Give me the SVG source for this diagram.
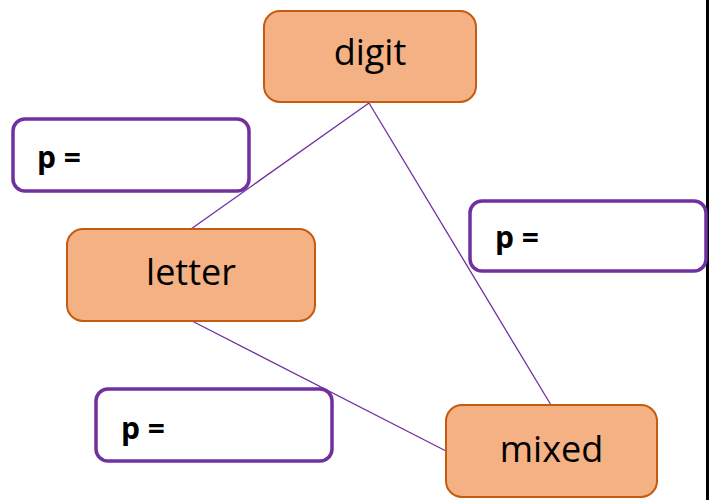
<svg xmlns="http://www.w3.org/2000/svg" width="712" height="500" viewBox="0 0 712 500">
  <style>
    .state rect { fill: #F4B183; stroke: #C55A11; stroke-width: 2; }
    .state text { font-family: "Open Sans", "Noto Sans", "Liberation Sans", sans-serif; font-size: 36px; fill: #000; text-anchor: middle; }
    .prob rect { fill: #FFFFFF; stroke: #7030A0; stroke-width: 3.5; }
    .prob text { font-family: "Open Sans", "Noto Sans", "Liberation Sans", sans-serif; font-size: 30px; font-weight: bold; fill: #000; }
    .edges line { stroke: #7030A0; stroke-width: 1.3; }
  </style>
  <rect x="0" y="0" width="712" height="500" fill="#FFFFFF"/>
  <!-- right border -->
  <line x1="707.5" y1="0" x2="707.5" y2="500" stroke="#000" stroke-width="3"/>

  <!-- probability labels -->
  <g id="p-letter" class="prob">
    <rect x="13" y="119" width="236" height="72" rx="12"/>
    <text x="37" y="168">p =</text>
  </g>
  <g id="p-digit-mixed" class="prob">
    <rect x="470" y="201" width="236" height="70" rx="12"/>
    <text x="495" y="248">p =</text>
  </g>
  <g id="p-letter-mixed" class="prob">
    <rect x="96" y="389" width="236" height="72" rx="12"/>
    <text x="121" y="439">p =</text>
  </g>

  <!-- connectors -->
  <g id="edges" class="edges">
    <line x1="369" y1="103" x2="191" y2="229"/>
    <line x1="369" y1="103" x2="551" y2="405"/>
    <line x1="192" y1="321" x2="446" y2="451"/>
  </g>

  <!-- states -->
  <g id="digit" class="state">
    <rect x="264" y="11" width="212" height="91" rx="16"/>
    <text x="370" y="65">digit</text>
  </g>
  <g id="letter" class="state">
    <rect x="67" y="229" width="248" height="92" rx="16"/>
    <text x="191" y="285">letter</text>
  </g>
  <g id="mixed" class="state">
    <rect x="446" y="405" width="211" height="92" rx="16"/>
    <text x="551.5" y="462">mixed</text>
  </g>
</svg>
